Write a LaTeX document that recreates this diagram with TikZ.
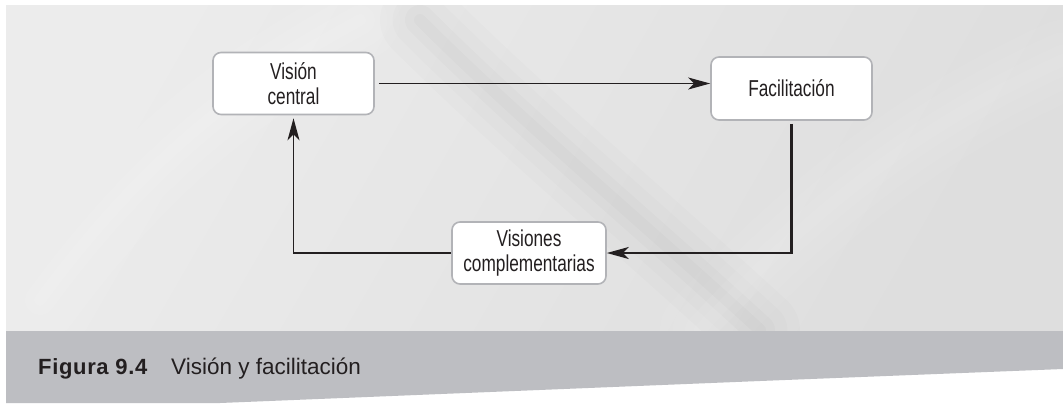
\documentclass[tikz,border=0pt]{standalone}
\usepackage{fontspec}
\setmainfont{Liberation Sans}[FakeStretch=0.75]
\newfontfamily\capfont{Liberation Sans}
\newfontfamily\figfont{Liberation Sans}[LetterSpace=3]
\usetikzlibrary{arrows.meta,calc}
\definecolor{ink}{HTML}{231F20}
\definecolor{boxline}{HTML}{B2B3B7}
\definecolor{band}{HTML}{BDBEC2}
\definecolor{bgA}{HTML}{ECECEC}
\definecolor{bgB}{HTML}{DEDEDE}
\tikzset{
  box/.style={draw=boxline, line width=1.6pt, fill=white, rounded corners=8pt,
    align=center, inner sep=0pt, text=ink,
    font=\fontsize{23}{25}\selectfont},
  conn/.style={draw=ink, line width=1.2pt,
    -{Stealth[length=22pt, width=12pt, inset=6pt]}},
  connthick/.style={conn, line width=2.2pt},
  streak/.style={line cap=round}
}
\begin{document}
\begin{tikzpicture}[x=1pt, y=-1pt]
\useasboundingbox (0,0) rectangle (1063,405);
\fill[white] (0,0) rectangle (1063,405);
% background panel
\shade[left color=bgA, right color=bgB, shading angle=60] (6,5) rectangle (1063,331);
\begin{scope}
\clip (6,5) rectangle (1063,331);
\foreach \w/\o in {80/0.05,55/0.05,30/0.06,12/0.06}{
  \draw[streak, white, line width=\w pt, opacity=\o] (40,300) .. controls (150,150) and (250,80) .. (360,20);
  \draw[streak, black, line width=\w pt, opacity=\o*0.25] (420,20) .. controls (520,120) and (640,220) .. (760,330);
  \draw[streak, white, line width=\w pt, opacity=\o] (700,330) .. controls (820,200) and (930,120) .. (1063,60);
}
\end{scope}
% caption band
\fill[band] (6,331) -- (1063,331) -- (1063,369) -- (760,381) -- (220,403) -- (6,403) -- cycle;

% nodes
\node[box, minimum width=161pt, minimum height=62pt] (vc) at (293.5,83.5) {Visión\\central};
\node[box, minimum width=161pt, minimum height=63pt] (fa) at (791.5,88.5) {Facilitación};
\node[box, minimum width=154pt, minimum height=62pt] (vs) at (529,253) {Visiones\\complementarias};

% connectors
\draw[conn] ([xshift=4pt]vc.east) -- (vc.east -| fa.west);
\draw[connthick] ([yshift=-3pt]fa.south) |- (vs.east);
\draw[conn] (vs.west) -| ([yshift=-3pt]vc.south);

% caption
\node[anchor=base west, inner sep=0pt, text=ink, font=\figfont\bfseries\fontsize{22}{26}\selectfont] (fig) at (38,374) {Figura 9.4};
\node[anchor=base west, inner sep=0pt, text=ink, font=\capfont\fontsize{22.5}{26}\selectfont] (cap) at (171,374) {Visión y facilitación};
\end{tikzpicture}
\end{document}
